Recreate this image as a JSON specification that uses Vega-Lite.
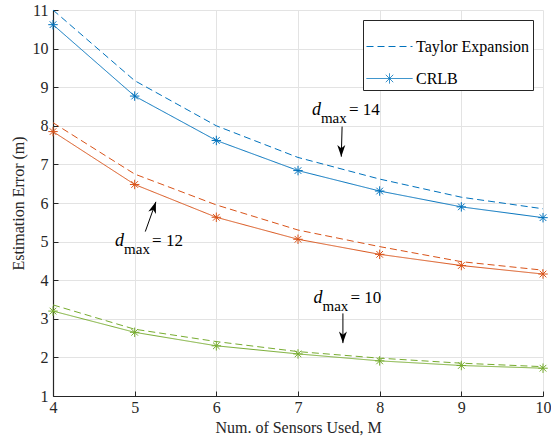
{
  "$schema": "https://vega.github.io/schema/vega-lite/v6.json",
  "width": 490,
  "height": 386,
  "autosize": {"type": "none"},
  "padding": {"left": 53, "top": 10, "right": 8, "bottom": 48},
  "background": "white",
  "config": {"view": {"stroke": null}, "font": "Liberation Serif"},
  "datasets": {
    "curves": [
      {"M": 4, "err": 10.62, "dmax": "14", "method": "CRLB"},
      {"M": 5, "err": 8.77, "dmax": "14", "method": "CRLB"},
      {"M": 6, "err": 7.62, "dmax": "14", "method": "CRLB"},
      {"M": 7, "err": 6.84, "dmax": "14", "method": "CRLB"},
      {"M": 8, "err": 6.31, "dmax": "14", "method": "CRLB"},
      {"M": 9, "err": 5.90, "dmax": "14", "method": "CRLB"},
      {"M": 10, "err": 5.62, "dmax": "14", "method": "CRLB"},
      {"M": 4, "err": 11.0, "dmax": "14", "method": "Taylor Expansion"},
      {"M": 5, "err": 9.17, "dmax": "14", "method": "Taylor Expansion"},
      {"M": 6, "err": 8.0, "dmax": "14", "method": "Taylor Expansion"},
      {"M": 7, "err": 7.18, "dmax": "14", "method": "Taylor Expansion"},
      {"M": 8, "err": 6.62, "dmax": "14", "method": "Taylor Expansion"},
      {"M": 9, "err": 6.15, "dmax": "14", "method": "Taylor Expansion"},
      {"M": 10, "err": 5.85, "dmax": "14", "method": "Taylor Expansion"},
      {"M": 4, "err": 7.85, "dmax": "12", "method": "CRLB"},
      {"M": 5, "err": 6.48, "dmax": "12", "method": "CRLB"},
      {"M": 6, "err": 5.63, "dmax": "12", "method": "CRLB"},
      {"M": 7, "err": 5.06, "dmax": "12", "method": "CRLB"},
      {"M": 8, "err": 4.67, "dmax": "12", "method": "CRLB"},
      {"M": 9, "err": 4.38, "dmax": "12", "method": "CRLB"},
      {"M": 10, "err": 4.16, "dmax": "12", "method": "CRLB"},
      {"M": 4, "err": 8.08, "dmax": "12", "method": "Taylor Expansion"},
      {"M": 5, "err": 6.75, "dmax": "12", "method": "Taylor Expansion"},
      {"M": 6, "err": 5.95, "dmax": "12", "method": "Taylor Expansion"},
      {"M": 7, "err": 5.30, "dmax": "12", "method": "Taylor Expansion"},
      {"M": 8, "err": 4.87, "dmax": "12", "method": "Taylor Expansion"},
      {"M": 9, "err": 4.48, "dmax": "12", "method": "Taylor Expansion"},
      {"M": 10, "err": 4.26, "dmax": "12", "method": "Taylor Expansion"},
      {"M": 4, "err": 3.20, "dmax": "10", "method": "CRLB"},
      {"M": 5, "err": 2.65, "dmax": "10", "method": "CRLB"},
      {"M": 6, "err": 2.30, "dmax": "10", "method": "CRLB"},
      {"M": 7, "err": 2.09, "dmax": "10", "method": "CRLB"},
      {"M": 8, "err": 1.91, "dmax": "10", "method": "CRLB"},
      {"M": 9, "err": 1.79, "dmax": "10", "method": "CRLB"},
      {"M": 10, "err": 1.72, "dmax": "10", "method": "CRLB"},
      {"M": 4, "err": 3.36, "dmax": "10", "method": "Taylor Expansion"},
      {"M": 5, "err": 2.73, "dmax": "10", "method": "Taylor Expansion"},
      {"M": 6, "err": 2.41, "dmax": "10", "method": "Taylor Expansion"},
      {"M": 7, "err": 2.15, "dmax": "10", "method": "Taylor Expansion"},
      {"M": 8, "err": 1.98, "dmax": "10", "method": "Taylor Expansion"},
      {"M": 9, "err": 1.85, "dmax": "10", "method": "Taylor Expansion"},
      {"M": 10, "err": 1.76, "dmax": "10", "method": "Taylor Expansion"}
    ],
    "annots": [
      {"M": 7.17, "err": 8.28, "rest": "= 14"},
      {"M": 4.76, "err": 4.89, "rest": "= 12"},
      {"M": 7.19, "err": 3.42, "rest": "= 10"}
    ],
    "arrowdata": [
      {"id": "14", "M": 7.53, "err": 7.20, "M2": 7.54, "err2": 7.98},
      {"id": "12", "M": 5.26, "err": 6.03, "M2": 5.13, "err2": 5.26},
      {"id": "10", "M": 7.55, "err": 2.37, "M2": 7.55, "err2": 3.14}
    ]
  },
  "encoding": {
    "x": {"field": "M", "type": "quantitative", "scale": {"domain": [4, 10], "nice": false},
          "axis": {"values": [4, 5, 6, 7, 8, 9, 10], "format": "d", "title": "Num. of Sensors Used, M",
                   "labelPadding": 8, "titlePadding": 4, "labelOverlap": false, "labelFlush": false,
                   "labelFont": "Liberation Serif", "labelFontSize": 16, "labelColor": "#262626",
                   "titleFont": "Liberation Serif", "titleFontSize": 16, "titleFontWeight": "normal", "titleColor": "#262626",
                   "domainColor": "#262626", "domainWidth": 1.2, "tickColor": "#262626", "tickSize": -5,
                   "gridColor": "#e3e3e3", "gridWidth": 1}},
    "y": {"field": "err", "type": "quantitative", "scale": {"domain": [1, 11], "nice": false},
          "axis": {"values": [1, 2, 3, 4, 5, 6, 7, 8, 9, 10, 11], "format": "d", "title": "Estimation Error (m)",
                   "labelPadding": 10, "titlePadding": 6, "labelOverlap": false, "labelFlush": false,
                   "labelFont": "Liberation Serif", "labelFontSize": 16, "labelColor": "#262626",
                   "titleFont": "Liberation Serif", "titleFontSize": 16, "titleFontWeight": "normal", "titleColor": "#262626",
                   "domainColor": "#262626", "domainWidth": 1.2, "tickColor": "#262626", "tickSize": -5,
                   "gridColor": "#e3e3e3", "gridWidth": 1}}
  },
  "layer": [
    {
      "data": {"name": "curves"},
      "mark": {"type": "line", "strokeWidth": 1},
      "encoding": {
        "color": {"field": "dmax", "type": "nominal", "scale": {"domain": ["14", "12", "10"], "range": ["#0072BD", "#D95319", "#77AC30"]}, "legend": null},
        "strokeDash": {"field": "method", "type": "nominal",
          "scale": {"domain": ["Taylor Expansion", "CRLB"], "range": [[7, 4], [1, 0]]},
          "legend": {
            "title": null, "orient": "top-right", "offset": 10,
            "strokeColor": "#262626", "fillColor": "white", "padding": 3,
            "labelFont": "Liberation Serif", "labelFontSize": 16, "labelColor": "black",
            "symbolType": "stroke", "symbolSize": 2116, "symbolStrokeColor": "#0072BD", "symbolStrokeWidth": 1,
            "rowPadding": -26, "labelOffset": 3,
            "encode": {"symbols": {"update": {"shape": {"signal": "datum.value === 'CRLB' ? 'M-1,0H1M0,-0.22V0.22M-0.16,-0.16L0.16,0.16M-0.16,0.16L0.16,-0.16' : 'stroke'"}}}}
          }}
      }
    },
    {
      "data": {"name": "curves"},
      "transform": [{"filter": "datum.method === 'CRLB'"}],
      "mark": {"type": "point", "filled": false, "size": 90, "strokeWidth": 1, "opacity": 1,
               "shape": "M-1,0H1M0,-1V1M-0.7,-0.7L0.7,0.7M-0.7,0.7L0.7,-0.7"},
      "encoding": {
        "color": {"field": "dmax", "type": "nominal", "legend": null}
      }
    },
    {
      "data": {"name": "annots"},
      "mark": {"type": "text", "text": "d", "font": "Liberation Serif", "fontStyle": "italic", "fontSize": 18, "align": "left", "baseline": "alphabetic", "color": "black"}
    },
    {
      "data": {"name": "annots"},
      "mark": {"type": "text", "text": "max", "font": "Liberation Serif", "fontSize": 15, "align": "left", "baseline": "alphabetic", "dx": 9, "dy": 8, "color": "black"}
    },
    {
      "data": {"name": "annots"},
      "mark": {"type": "text", "font": "Liberation Serif", "fontSize": 17, "align": "left", "baseline": "alphabetic", "dx": 37, "color": "black"},
      "encoding": {"text": {"field": "rest"}}
    },
    {
      "data": {"name": "arrowdata"},
      "mark": {"type": "rule", "color": "black", "strokeWidth": 1},
      "encoding": {"x2": {"field": "M2"}, "y2": {"field": "err2"}}
    },
    {
      "data": {"name": "arrowdata"},
      "transform": [{"filter": "datum.id !== '12'"}],
      "mark": {"type": "point", "filled": true, "color": "black", "opacity": 1, "size": 256, "angle": 0,
               "shape": "M0,0L-0.5,-1.45L0,-1.05L0.5,-1.45Z"}
    },
    {
      "data": {"name": "arrowdata"},
      "transform": [{"filter": "datum.id === '12'"}],
      "mark": {"type": "point", "filled": true, "color": "black", "opacity": 1, "size": 256, "angle": 199,
               "shape": "M0,0L-0.5,-1.45L0,-1.05L0.5,-1.45Z"}
    }
  ]
}
